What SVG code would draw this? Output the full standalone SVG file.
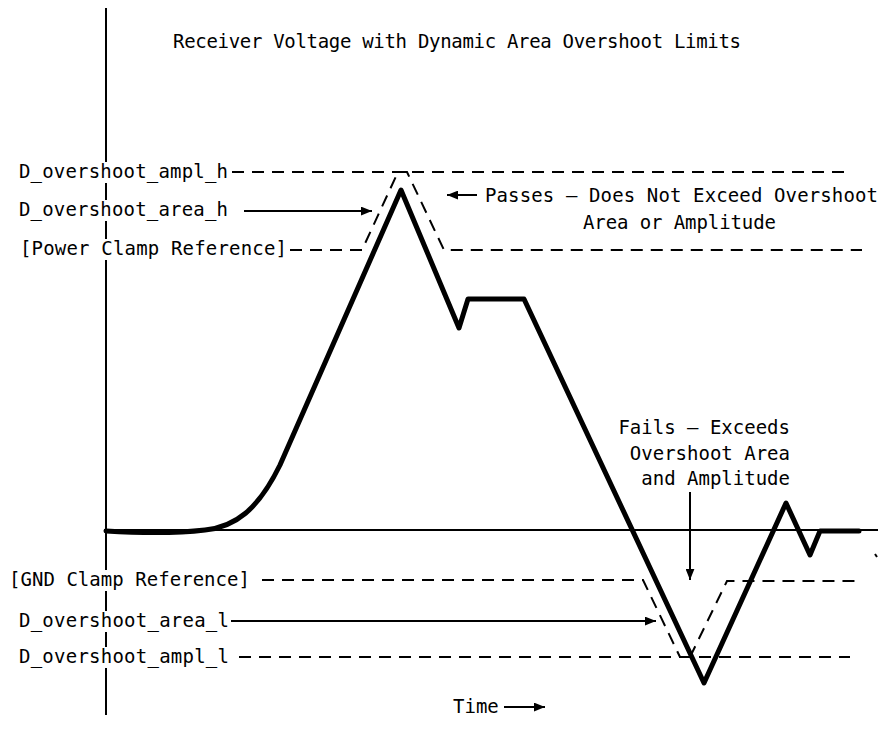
<svg xmlns="http://www.w3.org/2000/svg" width="886" height="744" viewBox="0 0 886 744">
<style>
text{font-family:"DejaVu Sans Mono","Liberation Mono",monospace;font-size:19px;fill:#000}
.thin{fill:none;stroke:#000;stroke-width:2}
.dash{fill:none;stroke:#000;stroke-width:2;stroke-dasharray:12 8}
.sig{fill:none;stroke:#000;stroke-width:5;stroke-linejoin:round;stroke-linecap:round}
.bg{fill:#fff}
</style>
<defs>
<marker id="ah" viewBox="0 0 10 8" refX="10" refY="4" markerWidth="11" markerHeight="9" markerUnits="userSpaceOnUse" orient="auto">
<path d="M0,0 L10,4 L0,8 Z" fill="#000"/>
</marker>
</defs>
<rect width="886" height="744" fill="#fff"/>
<g id="axes">
<path class="thin" d="M106,8 V715"/>
<path class="thin" d="M106,530 H878" stroke-width="1.6"/>
</g>
<g id="title"><text x="173" y="48" textLength="568">Receiver Voltage with Dynamic Area Overshoot Limits</text></g>
<g id="connectors">
<path class="dash" d="M232,172 H845"/>
<path class="dash" d="M290,250 H362 L398,172 H407 L444,250 H862"/>
<path class="dash" d="M262,580 H643 L680,657"/>
<path class="dash" d="M690,657 L727,581 H855"/>
<path class="dash" d="M239,657 H850"/>
<path class="thin" d="M244,211 H372" marker-end="url(#ah)"/>
<path class="thin" d="M230,621 H656" marker-end="url(#ah)"/>
<path class="thin" d="M477,195 H447" marker-end="url(#ah)"/>
<path class="thin" d="M690,492 V580" marker-end="url(#ah)"/>
<path class="thin" d="M504,707 H545" marker-end="url(#ah)"/>
<path class="thin" d="M875,554 L877,557" stroke-width="1"/>
</g>
<g id="signal"><path class="sig" d="M106,531 C140,533 180,533 205,530 C235,527 258,510 280,465 L401,190 L459,328 L468,299 H524 L704,683 L786,503 L810,555 L820,531 H859"/></g>
<g id="label-ampl-h"><rect class="bg" x="17" y="162" width="214" height="21"/><text x="19" y="178" textLength="209">D_overshoot_ampl_h</text></g>
<g id="label-area-h"><rect class="bg" x="17" y="200" width="214" height="21"/><text x="19" y="216" textLength="209">D_overshoot_area_h</text></g>
<g id="label-power"><rect class="bg" x="17" y="239" width="272" height="21"/><text x="20" y="255" textLength="267">[Power Clamp Reference]</text></g>
<g id="label-gnd"><rect class="bg" x="7" y="570" width="246" height="21"/><text x="9" y="586" textLength="241">[GND Clamp Reference]</text></g>
<g id="label-area-l"><rect class="bg" x="17" y="611" width="214" height="21"/><text x="19" y="627" textLength="210">D_overshoot_area_l</text></g>
<g id="label-ampl-l"><rect class="bg" x="17" y="647" width="214" height="21"/><text x="19" y="663" textLength="210">D_overshoot_ampl_l</text></g>
<g id="label-passes">
<text x="485" y="202" textLength="393">Passes – Does Not Exceed Overshoot</text>
<text x="583" y="229" textLength="193">Area or Amplitude</text>
</g>
<g id="label-fails">
<text x="790" y="434" text-anchor="end">Fails – Exceeds</text>
<text x="790" y="460" text-anchor="end">Overshoot Area</text>
<text x="790" y="485" text-anchor="end">and Amplitude</text>
</g>
<g id="label-time"><text x="453" y="713">Time</text></g>
</svg>
